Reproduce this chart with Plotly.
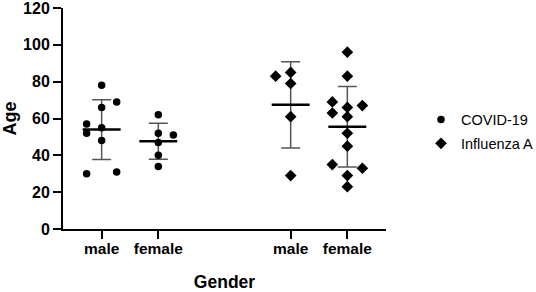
import numpy as np
import plotly.graph_objects as go

# ---- data ----
groups = ["COVID-19", "Influenza A"]
categories = ["male", "female"]

covid_male = [78, 69, 66, 57, 52, 55, 48, 30, 31]
covid_female = [62, 52, 51, 47, 40, 34]
flu_male = [83, 85, 79, 61, 29]
flu_female = [96, 83, 69, 67, 63, 66, 61, 52, 45, 35, 33, 29, 23]

# scatter columns (-1 left, 0 centre, +1 right) used by the dot-plot layout
covid_male_col = [0, 1, 0, -1, -1, 0, 0, -1, 1]
covid_female_col = [0, 0, 1, 0, 0, 0]
flu_male_col = [-1, 0, 0, 0, 0]
flu_female_col = [0, 0, -1, 1, -1, 0, 0, 0, 0, -1, 1, 0, 0]

y_ticks = [0, 20, 40, 60, 80, 100, 120]

# ---- layout helpers ----
positions = {("COVID-19", "male"): 1.0, ("COVID-19", "female"): 2.0,
             ("Influenza A", "male"): 4.335, ("Influenza A", "female"): 5.335}
jitter_step = 0.265
mean_half = 0.335

series = [
    ("COVID-19", "male", covid_male, covid_male_col, "circle", 7.5),
    ("COVID-19", "female", covid_female, covid_female_col, "circle", 7.5),
    ("Influenza A", "male", flu_male, flu_male_col, "diamond", 9),
    ("Influenza A", "female", flu_female, flu_female_col, "diamond", 9),
]

font = "Arial, Liberation Sans, sans-serif"
fig = go.Figure()

shown = set()
for grp, cat, vals, cols, sym, size in series:
    pos = positions[(grp, cat)]
    vals = np.array(vals, dtype=float)
    xs = pos + np.array(cols) * jitter_step
    mean = vals.mean()
    sd = vals.std(ddof=1)
    # error bar (mean ± SD)
    fig.add_trace(go.Scatter(
        x=[pos], y=[mean], mode="markers",
        marker=dict(size=1, color="rgba(0,0,0,0)"),
        error_y=dict(type="data", array=[sd], visible=True,
                     color="#555555", thickness=1.5, width=9.5),
        showlegend=False, hoverinfo="skip"))
    # mean line
    fig.add_trace(go.Scatter(
        x=[pos - mean_half, pos + mean_half], y=[mean, mean], mode="lines",
        line=dict(color="black", width=2.5), showlegend=False, hoverinfo="skip"))
    # points
    fig.add_trace(go.Scatter(
        x=xs, y=vals, mode="markers", name=grp,
        legendgroup=grp,
        marker=dict(symbol=sym, size=size, color="black"),
        showlegend=grp not in shown))
    shown.add(grp)

tick_pos = [positions[(g, c)] for g in groups for c in categories]
tick_text = [c for g in groups for c in categories]

fig.update_layout(
    width=536, height=292,
    margin=dict(l=63, r=150, t=7.5, b=63.3, autoexpand=False),
    paper_bgcolor="white", plot_bgcolor="white",
    font=dict(family=font, color="black"),
    legend=dict(xref="container", yref="container",
                x=421 / 536, y=1 - 103.5 / 292, xanchor="left", yanchor="top",
                font=dict(size=14.5, family=font, color="black"),
                tracegroupgap=2, itemsizing="trace",
                bgcolor="rgba(0,0,0,0)"),
    xaxis=dict(range=[0.318, 6.017], tickvals=tick_pos, ticktext=tick_text,
               showline=True, linecolor="black", linewidth=2,
               ticks="outside", ticklen=8, tickwidth=2, tickcolor="black",
               showgrid=False, zeroline=False, automargin=False,
               ticklabelstandoff=-4,
               tickfont=dict(size=15.5, family=font, color="black", weight="bold"),
               title=dict(text="<b>Gender</b>", font=dict(size=17.5, family=font),
                          standoff=22)),
    yaxis=dict(range=[0, 120], tickvals=y_ticks,
               showline=True, linecolor="black", linewidth=2,
               ticks="outside", ticklen=8, tickwidth=2, tickcolor="black",
               showgrid=False, zeroline=False, ticklabeloverflow="allow",
               automargin=False,
               tickfont=dict(size=16, family=font, color="black", weight="bold"),
               title=dict(text="<b>Age</b>", font=dict(size=18, family=font),
                          standoff=3)),
)

fig.write_html("out.html", config={"displayModeBar": False},
               post_script="document.body.style.margin='0';document.body.style.overflow='hidden';")
